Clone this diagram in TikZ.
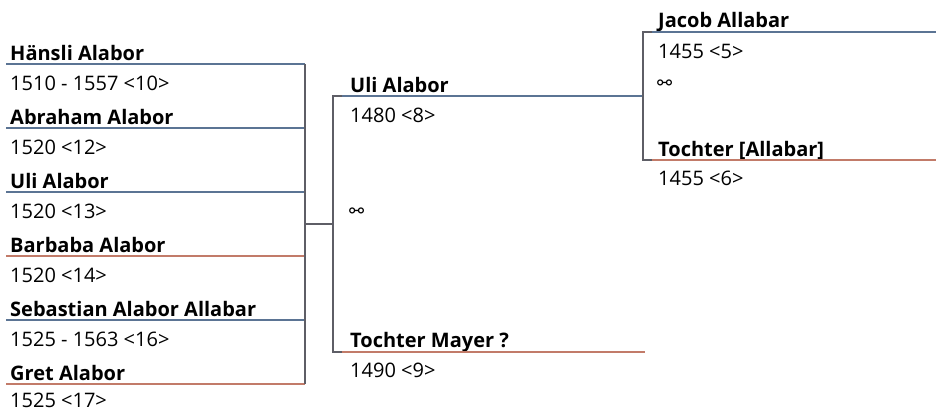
\documentclass[tikz,border=0pt]{standalone}
\usepackage{fontspec}
\setmainfont{Open Sans}
\newfontfamily\symfont{DejaVu Sans}
\definecolor{maleline}{HTML}{5B7494}
\definecolor{femline}{HTML}{C27B69}
\definecolor{connc}{HTML}{5E5E66}
\begin{document}
\begin{tikzpicture}[x=1pt,y=-1pt,
  pname/.style={font=\fontsize{20}{22}\selectfont\bfseries, anchor=base west, inner sep=0pt},
  pdate/.style={font=\fontsize{20}{22}\selectfont, anchor=base west, inner sep=0pt},
  marr/.style={font=\symfont\fontsize{18}{18}\selectfont, anchor=west, inner sep=0pt},
  mline/.style={draw=maleline, line width=2pt},
  fline/.style={draw=femline, line width=2pt},
  conn/.style={draw=connc, line width=2.6pt},
  hconn/.style={draw=connc, line width=2pt}]
\useasboundingbox (0,0) rectangle (936,410);
% ---- left column (children)
\foreach \i/\y/\nm/\dt/\st in {1/64/Hänsli Alabor/1510 - 1557 <10>/mline,
  2/128/Abraham Alabor/1520 <12>/mline,
  3/192/Uli Alabor/1520 <13>/mline,
  4/256/Barbaba Alabor/1520 <14>/fline,
  5/320/Sebastian Alabor Allabar/1525 - 1563 <16>/mline,
  6/384/Gret Alabor/1525 <17>/fline}{
  \node[pname] (c\i) at (10,\y-4) {\nm};
  \node[pdate] (cd\i) at (10,{min(\y+26,407)}) {\dt};
  \coordinate (ca\i) at (6,\y);
  \coordinate (cb\i) at (305,\y);
  \draw[\st] (ca\i) -- (cb\i);
}
\draw[conn] (cb1) -- (cb6);
\coordinate (cm) at (305,224);
\coordinate (pm) at (333,224);
\draw[hconn] (cm) -- (pm);
% ---- middle column (parents)
\node[pname] (p1) at (350,92) {Uli Alabor};
\node[pdate] (pd1) at (350,122) {1480 <8>};
\node[marr] (pm1) at (349,213) {⚯};
\node[pname] (p2) at (350,347) {Tochter Mayer ?};
\node[pdate] (pd2) at (350,377) {1490 <9>};
\coordinate (p1c) at (333,96);
\coordinate (p1a) at (342,96);
\coordinate (p1b) at (643,96);
\coordinate (p2c) at (333,352);
\coordinate (p2a) at (342,352);
\coordinate (p2b) at (645,352);
\draw[mline] (p1a) -- (p1b);
\draw[fline] (p2a) -- (p2b);
\draw[conn] (p1a) -- (p1c) -- (p2c) -- (p2a);
% ---- right column (grandparents)
\node[pname] (g1) at (658,27) {Jacob Allabar};
\node[pdate] (gd1) at (658,58) {1455 <5>};
\node[marr] (gm1) at (657,85) {⚯};
\node[pname] (g2) at (658,156) {Tochter [Allabar]};
\node[pdate] (gd2) at (658,185) {1455 <6>};
\coordinate (g1c) at (643,32);
\coordinate (g1a) at (652,32);
\coordinate (g1b) at (936,32);
\coordinate (g2c) at (643,160);
\coordinate (g2a) at (652,160);
\coordinate (g2b) at (936,160);
\draw[mline] (g1a) -- (g1b);
\draw[fline] (g2a) -- (g2b);
\draw[conn] (g1a) -- (g1c) -- (g2c) -- (g2a);
\end{tikzpicture}
\end{document}
